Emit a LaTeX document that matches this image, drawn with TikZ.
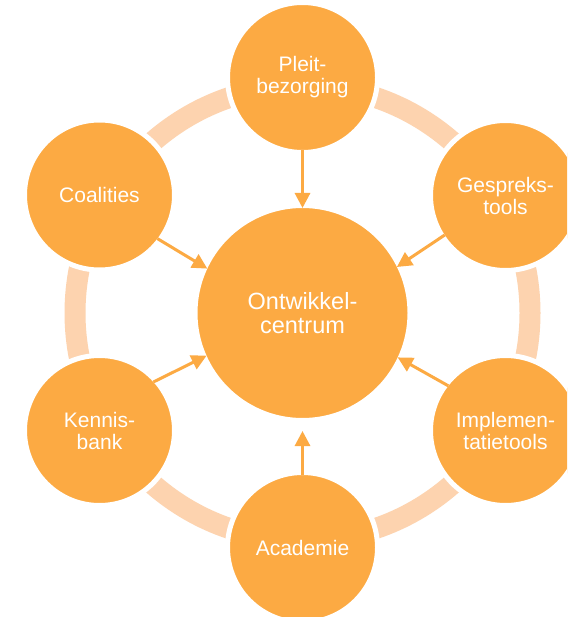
\documentclass[tikz,border=0pt]{standalone}
\usepackage{fontspec}
\setmainfont{Liberation Sans}
\usetikzlibrary{arrows.meta}
\definecolor{orng}{HTML}{FCAA43}
\definecolor{peach}{HTML}{FDD3AF}
\tikzset{
  bub/.style={circle, fill=orng, draw=white, line width=5pt, inner sep=0pt, outer sep=-2.5pt,
    minimum size=150pt, text=white, align=center, font=\fontsize{21pt}{22pt}\selectfont},
  hub/.style={bub, minimum size=215pt, font=\fontsize{23.5pt}{24.5pt}\selectfont},
  conn/.style={draw=orng, line width=3pt, -{Triangle[length=15pt,width=15pt]}},
  ring/.style={draw=peach, line width=21pt}
}
\begin{document}
\begin{tikzpicture}[x=1pt,y=-1pt]
\clip (0,0) rectangle (567,617);
\fill[white] (0,0) rectangle (567,617);
\draw[ring] (302.5,313) circle[radius=227.5];
\node[hub] (c) at (302.5,313) {Ontwikkel-\\centrum};
\node[bub] (p) at (302.5,77.5) {Pleit-\\bezorging};
\node[bub] (g) at (505.5,195.5) {Gespreks-\\tools};
\node[bub] (i) at (505.5,430.5) {Implemen-\\tatietools};
\node[bub] (a) at (302.5,547.5) {Academie};
\node[bub] (k) at (99.5,430.5) {Kennis-\\bank};
\node[bub] (co) at (99.5,195) {Coalities};
\draw[conn] (p.270) -- (c.90);
\draw[conn, shorten >=13pt] (a.90) -- (c.270);
\draw[conn] (co.-37) -- (c.155);
\draw[conn] (k.42) -- (c.204);
\draw[conn] (g.213) -- (c.26);
\draw[conn] (i.142) -- (c.-25);
\end{tikzpicture}
\end{document}
